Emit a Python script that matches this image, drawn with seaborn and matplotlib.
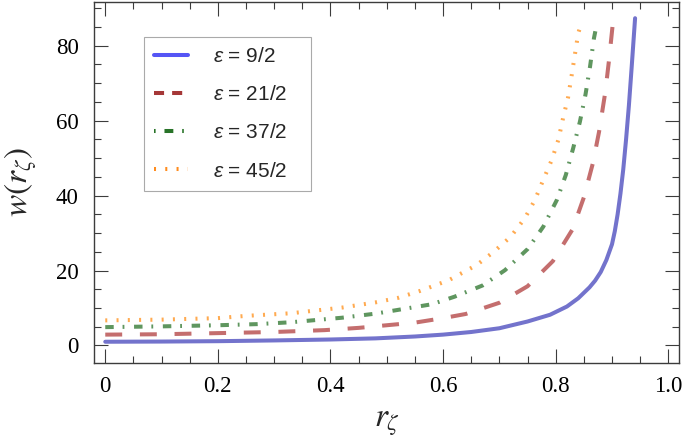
import pandas as pd
import matplotlib
matplotlib.use("Agg")
import matplotlib.pyplot as plt
from matplotlib.lines import Line2D
from matplotlib.ticker import MultipleLocator
import seaborn as sns

# values
r_a = [0, .1, .2, .3, .4, .48, .55, .6, .65, .7, .75, .79, .82, .84, .86, .87, .88,
       .89, .9, .905, .91, .915, .92, .925, .93, .935, .941]
w_a = [1.0, 1.05, 1.15, 1.35, 1.6, 1.9, 2.4, 2.9, 3.6, 4.6, 6.4, 8.2, 10.4, 12.6,
       15.5, 17.3, 19.6, 22.8, 27.0, 30.5, 35.0, 40.5, 47.0, 55.0, 64.0, 74.4, 87.3]

r_b = [0, .1, .2, .3, .39, .45, .5, .55, .6, .64, .7, .75, .795, .83, .85, .866,
       .877, .888, .895, .902]
w_b = [2.9, 3.0, 3.3, 3.6, 4.1, 4.7, 5.4, 6.1, 7.3, 8.4, 11.4, 15.8, 22.5, 31,
       39.5, 48.6, 57.0, 67.5, 76.5, 86.7]

r_c = [0, .1, .2, .27, .33, .42, .48, .5, .58, .62, .67, .71, .75, .778, .802,
       .818, .831, .843, .853, .861, .868, .873]
w_c = [4.9, 5.1, 5.4, 5.7, 6.2, 7.4, 8.5, 9.0, 11.0, 13.0, 16.0, 20.1, 25.7, 31.7,
       38.8, 45.5, 52.6, 59.7, 67.0, 74.4, 82.0, 85.8]

r_d = [0, .1, .2, .25, .33, .42, .48, .52, .56, .61, .66, .69, .72, .745, .763,
       .778, .793, .805, .813, .822, .828, .834, .84, .846]
w_d = [6.7, 6.9, 7.3, 7.9, 8.6, 10.1, 11.5, 12.7, 14.6, 17.4, 21.5, 25.0, 29.0,
       33.9, 38.8, 44.2, 49.5, 55.0, 60.6, 66.2, 71.7, 77.5, 83.3, 86.1]

eps_labels = ["9/2", "21/2", "37/2", "45/2"]

frames = []
for lab, rr, ww in zip(eps_labels, [r_a, r_b, r_c, r_d], [w_a, w_b, w_c, w_d]):
    frames.append(pd.DataFrame({"r": rr, "w": ww, "eps": lab}))
df = pd.concat(frames, ignore_index=True)

line_cols = {"9/2": "#7373cc", "21/2": "#c46e6e", "37/2": "#5f965f", "45/2": "#ffaa50"}
leg_cols = ["#5555f5", "#a53737", "#287328", "#ff8c1e"]
line_dash = {"9/2": "", "21/2": (4.2, 4.4), "37/2": (2.1, 2.2, 0.45, 2.4),
             "45/2": (0.5, 2.3)}

sns.set_style("ticks")
plt.rcParams["font.family"] = ["Liberation Serif", "DejaVu Serif"]
plt.rcParams["mathtext.fontset"] = "custom"
plt.rcParams["mathtext.it"] = "Liberation Sans:italic"
plt.rcParams["mathtext.rm"] = "Liberation Sans"

fig = plt.figure(figsize=(6.85, 4.46), dpi=100)
fig.subplots_adjust(left=94 / 685, right=679.4 / 685, bottom=1 - 363.3 / 446,
                    top=1 - 1.7 / 446)
ax = fig.add_subplot(111)

sns.lineplot(data=df, x="r", y="w", hue="eps", style="eps", palette=line_cols,
             dashes=line_dash, estimator=None, sort=False, lw=2.9, legend=False, ax=ax)

ax.set_xlim(-0.02, 1.0197)
ax.set_ylim(-4.75, 91.7)
ax.xaxis.set_major_locator(MultipleLocator(0.2))
ax.xaxis.set_minor_locator(MultipleLocator(0.05))
ax.yaxis.set_major_locator(MultipleLocator(20))
ax.yaxis.set_minor_locator(MultipleLocator(5))
ax.set_xticks([0, .2, .4, .6, .8, 1.0])
ax.set_xticklabels(["0", "0.2", "0.4", "0.6", "0.8", "1.0"])

for s in ax.spines.values():
    s.set_color("#3c3c3c")
    s.set_linewidth(1.0)
ax.tick_params(which="both", direction="in", top=True, right=True,
               color="#3c3c3c", width=0.8, labelsize=16.5, labelcolor="black")
ax.tick_params(which="major", length=10)
ax.tick_params(which="minor", length=5)
ax.tick_params(axis="x", pad=9)
ax.tick_params(axis="y", pad=11)

ax.set_xlabel(r"$r_\zeta$", fontsize=24, math_fontfamily="stix")
ax.set_ylabel(r"$w(r_\zeta)$", fontsize=24, math_fontfamily="stix")
ax.xaxis.set_label_coords(0.5, -0.124)
ax.yaxis.set_label_coords(-0.092, 0.5)

handles = [
    Line2D([], [], color=leg_cols[0], lw=2.9),
    Line2D([], [], color=leg_cols[1], lw=2.9, dashes=(2.5, 2.0)),
    Line2D([], [], color=leg_cols[2], lw=2.9, dashes=(0.4, 2.2, 2.2, 2.2)),
    Line2D([], [], color=leg_cols[3], lw=2.9, dashes=(0.5, 2.3)),
]
labels = [r"$\varepsilon$ = " + e + "   " for e in eps_labels]
leg = ax.legend(handles, labels, loc="upper left",
                bbox_to_anchor=(144 / 685, 1 - 36.7 / 446), bbox_transform=fig.transFigure,
                prop={"family": "Liberation Sans", "size": 15}, frameon=True,
                fancybox=False, borderpad=0.5, labelspacing=0.92, handlelength=1.63,
                handletextpad=1.2, borderaxespad=0)
leg.get_frame().set_edgecolor("#aaaaaa")
leg.get_frame().set_linewidth(0.8)
leg.get_frame().set_alpha(1)

fig.savefig("out.png", dpi=100)
